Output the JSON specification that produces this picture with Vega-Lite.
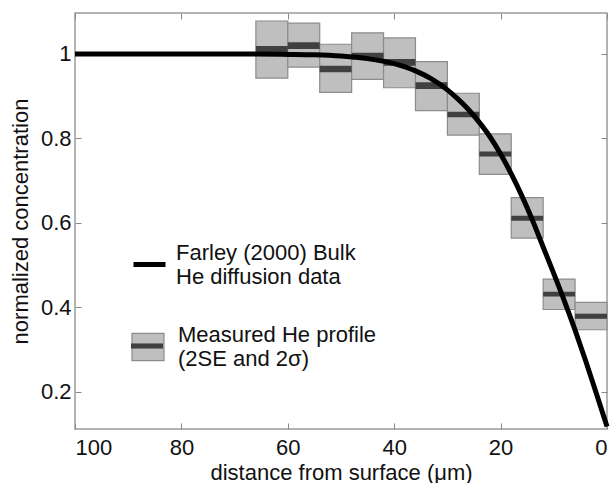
{
  "$schema": "https://vega.github.io/schema/vega-lite/v6.json",
  "width": 532,
  "height": 416,
  "autosize": {"type": "none"},
  "padding": {"left": 75, "top": 13, "right": 6, "bottom": 54},
  "config": {
    "font": "Liberation Sans",
    "view": {"stroke": "#9a9a9a", "strokeWidth": 1.5},
    "axis": {
      "grid": false,
      "domain": false,
      "tickColor": "#8a8a8a",
      "tickSize": -6,
      "tickWidth": 1,
      "labelFont": "Liberation Sans",
      "labelFontSize": 22,
      "labelColor": "#111111",
      "titleFont": "Liberation Sans",
      "titleFontSize": 22,
      "titleFontWeight": "normal",
      "titleColor": "#111111"
    },
    "legend": {
      "labelFont": "Liberation Sans",
      "labelFontSize": 22,
      "labelColor": "#111111",
      "labelLimit": 400,
      "padding": 0,
      "title": null
    }
  },
  "datasets": {
    "boxes": [
      {"x0": 66, "x1": 60, "lo": 0.943, "hi": 1.078, "selo": 1.002, "sehi": 1.019, "m": "Measured He profile|(2SE and 2σ)", "b": "se"},
      {"x0": 60, "x1": 54, "lo": 0.969, "hi": 1.073, "selo": 1.012, "sehi": 1.028, "m": "Measured He profile|(2SE and 2σ)", "b": "se"},
      {"x0": 54, "x1": 48, "lo": 0.909, "hi": 1.023, "selo": 0.957, "sehi": 0.972, "m": "Measured He profile|(2SE and 2σ)", "b": "se"},
      {"x0": 48, "x1": 42, "lo": 0.940, "hi": 1.050, "selo": 0.987, "sehi": 1.003, "m": "Measured He profile|(2SE and 2σ)", "b": "se"},
      {"x0": 42, "x1": 36, "lo": 0.920, "hi": 1.038, "selo": 0.972, "sehi": 0.988, "m": "Measured He profile|(2SE and 2σ)", "b": "se"},
      {"x0": 36, "x1": 30, "lo": 0.866, "hi": 0.982, "selo": 0.917, "sehi": 0.933, "m": "Measured He profile|(2SE and 2σ)", "b": "se"},
      {"x0": 30, "x1": 24, "lo": 0.808, "hi": 0.907, "selo": 0.850, "sehi": 0.863, "m": "Measured He profile|(2SE and 2σ)", "b": "se"},
      {"x0": 24, "x1": 18, "lo": 0.715, "hi": 0.811, "selo": 0.757, "sehi": 0.769, "m": "Measured He profile|(2SE and 2σ)", "b": "se"},
      {"x0": 18, "x1": 12, "lo": 0.564, "hi": 0.660, "selo": 0.605, "sehi": 0.617, "m": "Measured He profile|(2SE and 2σ)", "b": "se"},
      {"x0": 12, "x1": 6, "lo": 0.395, "hi": 0.467, "selo": 0.426, "sehi": 0.437, "m": "Measured He profile|(2SE and 2σ)", "b": "se"},
      {"x0": 6, "x1": 0, "lo": 0.347, "hi": 0.412, "selo": 0.373, "sehi": 0.385, "m": "Measured He profile|(2SE and 2σ)", "b": "se"}
    ],
    "curve": [
      {"x": 0, "c": 0.118, "s": "Farley (2000) Bulk|He diffusion data"},
      {"x": 2, "c": 0.196, "s": "Farley (2000) Bulk|He diffusion data"},
      {"x": 4, "c": 0.273, "s": "Farley (2000) Bulk|He diffusion data"},
      {"x": 6, "c": 0.346, "s": "Farley (2000) Bulk|He diffusion data"},
      {"x": 8, "c": 0.415, "s": "Farley (2000) Bulk|He diffusion data"},
      {"x": 10, "c": 0.480, "s": "Farley (2000) Bulk|He diffusion data"},
      {"x": 12, "c": 0.543, "s": "Farley (2000) Bulk|He diffusion data"},
      {"x": 14, "c": 0.606, "s": "Farley (2000) Bulk|He diffusion data"},
      {"x": 16, "c": 0.664, "s": "Farley (2000) Bulk|He diffusion data"},
      {"x": 18, "c": 0.716, "s": "Farley (2000) Bulk|He diffusion data"},
      {"x": 20, "c": 0.763, "s": "Farley (2000) Bulk|He diffusion data"},
      {"x": 22, "c": 0.804, "s": "Farley (2000) Bulk|He diffusion data"},
      {"x": 24, "c": 0.838, "s": "Farley (2000) Bulk|He diffusion data"},
      {"x": 26, "c": 0.868, "s": "Farley (2000) Bulk|He diffusion data"},
      {"x": 28, "c": 0.893, "s": "Farley (2000) Bulk|He diffusion data"},
      {"x": 30, "c": 0.915, "s": "Farley (2000) Bulk|He diffusion data"},
      {"x": 33, "c": 0.941, "s": "Farley (2000) Bulk|He diffusion data"},
      {"x": 36, "c": 0.960, "s": "Farley (2000) Bulk|He diffusion data"},
      {"x": 40, "c": 0.977, "s": "Farley (2000) Bulk|He diffusion data"},
      {"x": 45, "c": 0.989, "s": "Farley (2000) Bulk|He diffusion data"},
      {"x": 50, "c": 0.995, "s": "Farley (2000) Bulk|He diffusion data"},
      {"x": 55, "c": 0.998, "s": "Farley (2000) Bulk|He diffusion data"},
      {"x": 60, "c": 0.999, "s": "Farley (2000) Bulk|He diffusion data"},
      {"x": 70, "c": 1.0, "s": "Farley (2000) Bulk|He diffusion data"},
      {"x": 85, "c": 1.0, "s": "Farley (2000) Bulk|He diffusion data"},
      {"x": 100, "c": 1.0, "s": "Farley (2000) Bulk|He diffusion data"}
    ]
  },
  "layer": [
    {
      "data": {"name": "boxes"},
      "mark": {"type": "rect", "stroke": "#8c8c8c", "strokeWidth": 1.2},
      "encoding": {
        "x": {"field": "x0", "type": "quantitative",
              "scale": {"domain": [0, 100], "reverse": true, "nice": false},
              "axis": {"orient": "bottom", "values": [0, 20, 40, 60, 80, 100], "title": "distance from surface (μm)", "labelPadding": 14, "titleBaseline": "alphabetic", "titleY": 50}},
        "x2": {"field": "x1"},
        "y": {"field": "lo", "type": "quantitative",
              "scale": {"domain": [0.112, 1.097], "nice": false, "zero": false},
              "axis": {"orient": "left", "values": [0.2, 0.4, 0.6, 0.8, 1], "format": ".1~f", "title": "normalized concentration", "labelPadding": 10, "titlePadding": 8}},
        "y2": {"field": "hi"},
        "fill": {"field": "m", "type": "nominal",
                 "scale": {"domain": ["Measured He profile|(2SE and 2σ)"], "range": ["#bfbfbf"]},
                 "legend": {"orient": "none", "legendX": 56, "legendY": 317, "symbolType": "M-1,-0.85H1V0.85H-1Z", "symbolSize": 1024, "symbolStrokeColor": "#8c8c8c", "symbolStrokeWidth": 1.2, "symbolFillColor": "#bfbfbf", "symbolOpacity": 1, "labelExpr": "split(datum.label, '|')", "labelOffset": 13, "labelBaseline": "bottom"}}
      }
    },
    {
      "data": {"name": "boxes"},
      "mark": {"type": "rect", "fill": "#404040"},
      "encoding": {
        "x": {"field": "x0", "type": "quantitative",
              "axis": {"orient": "top", "values": [0, 20, 40, 60, 80, 100], "labels": false, "title": null}},
        "x2": {"field": "x1"},
        "y": {"field": "selo", "type": "quantitative",
              "axis": {"orient": "right", "values": [0.2, 0.4, 0.6, 0.8, 1], "labels": false, "title": null}},
        "y2": {"field": "sehi"},
        "opacity": {"field": "b", "type": "nominal",
                    "scale": {"domain": ["se"], "range": [1]},
                    "legend": {"orient": "none", "legendX": 56, "legendY": 317, "symbolType": "M-1,-0.16H1V0.16H-1Z", "symbolSize": 1024, "symbolFillColor": "#404040", "symbolStrokeWidth": 0, "labelExpr": "''", "labelOffset": 8}}
      }
    },
    {
      "data": {"name": "curve"},
      "mark": {"type": "line", "strokeWidth": 5, "interpolate": "monotone"},
      "encoding": {
        "x": {"field": "x", "type": "quantitative", "axis": null},
        "y": {"field": "c", "type": "quantitative", "axis": null},
        "color": {"field": "s", "type": "nominal",
                  "scale": {"domain": ["Farley (2000) Bulk|He diffusion data"], "range": ["#000000"]},
                  "legend": {"orient": "none", "legendX": 56, "legendY": 233, "symbolType": "stroke", "symbolSize": 1024, "symbolStrokeWidth": 5, "labelExpr": "split(datum.label, '|')", "labelOffset": 8, "labelBaseline": "bottom"}}
      }
    }
  ]
}
